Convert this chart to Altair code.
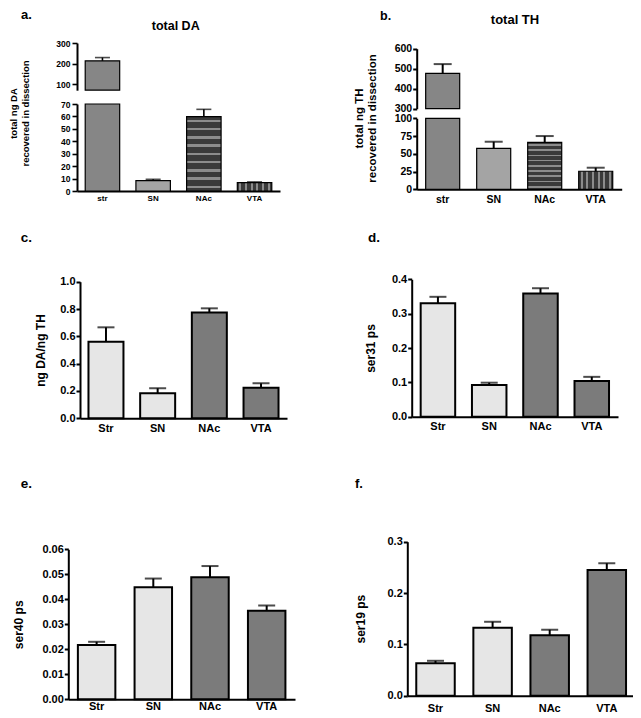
import altair as alt
import pandas as pd

# ---------------- data ----------------
cats_ab = ["str", "SN", "NAc", "VTA"]
cats = ["Str", "SN", "NAc", "VTA"]
da_mean = [213, 8.3, 59.8, 6.7]
da_err = [16, 1.1, 5.9, 0.6]
th_mean = [477, 57.7, 66.2, 25.4]
th_err = [46, 9.3, 8.8, 5.0]
ratio_mean = [0.56, 0.183, 0.775, 0.224]
ratio_err = [0.106, 0.037, 0.030, 0.032]
ser31_mean = [0.330, 0.092, 0.359, 0.104]
ser31_err = [0.019, 0.007, 0.015, 0.012]
ser40_mean = [0.0217, 0.0448, 0.0488, 0.0354]
ser40_err = [0.0013, 0.0035, 0.0045, 0.0021]
ser19_mean = [0.063, 0.1325, 0.118, 0.245]
ser19_err = [0.005, 0.0115, 0.0105, 0.013]

panel_letters = ["a.", "b.", "c.", "d.", "e.", "f."]
panel_titles = ["total DA", "total TH"]
ytitle_a = ["total ng DA", "recovered in dissection"]
ytitle_b = ["total ng TH", "recovered in dissection"]
ytitles = ["ng DA/ng TH", "ser31 ps", "ser40 ps", "ser19 ps"]

ticks_a_up = [100, 200, 300]
ticks_a_low = [0, 10, 20, 30, 40, 50, 60, 70]
ticks_b_up = [300, 400, 500, 600]
ticks_b_low = [0, 25, 50, 75, 100]
ticks_c = [0.0, 0.2, 0.4, 0.6, 0.8, 1.0]
ticks_d = [0.0, 0.1, 0.2, 0.3, 0.4]
ticks_e = [0.0, 0.01, 0.02, 0.03, 0.04, 0.05, 0.06]
ticks_f = [0.0, 0.1, 0.2, 0.3]

W, H = 625, 710
FONT = "Liberation Sans"
LIGHT, DARK = "#e6e6e6", "#7b7b7b"


def frame(cl, m, e):
    return pd.DataFrame({"cat": cl, "mean": m, "err": e})


def stripes(base, light, n, width, vertical):
    stops = [alt.GradientStop(color=base, offset=0)]
    for i in range(n):
        c = (i + 0.5) / n
        lo, hi = c - width / 2, c + width / 2
        stops += [alt.GradientStop(color=base, offset=lo),
                  alt.GradientStop(color=light, offset=lo),
                  alt.GradientStop(color=light, offset=hi),
                  alt.GradientStop(color=base, offset=hi)]
    stops.append(alt.GradientStop(color=base, offset=1))
    if vertical:
        return alt.LinearGradient(gradient="linear", stops=stops, x1=0, x2=1, y1=0, y2=0)
    return alt.LinearGradient(gradient="linear", stops=stops, x1=0, x2=0, y1=0, y2=1)


def segment(df, cat_list, fills, xr, pi, po, yr, ydom, yvals, yfmt, yoff, xoff,
            bar_filter=None, err_filter=None, ytitle=None, title_x=None, title_y=None,
            ylab=11, xlab=11, xpad=4, tick=4, ypad=1, clamp=False, bstroke=2.0,
            estroke=2.0, cap=17, title_size=12, title_lh=13, tick_w=2):
    xscale = alt.Scale(domain=cat_list, range=xr, paddingInner=pi, paddingOuter=po)
    if xoff is None:
        xaxis = None
    else:
        xaxis = alt.Axis(orient="bottom", offset=xoff, title=None, ticks=False, labelAngle=0,
                         labelFont=FONT, labelFontWeight="bold", labelFontSize=xlab,
                         labelPadding=xpad, labelColor="black", domainColor="black",
                         domainWidth=2, grid=False)
    X = alt.X("cat:N", scale=xscale, axis=xaxis, sort=cat_list)
    yscale = alt.Scale(domain=ydom, range=yr, nice=False, zero=False, clamp=clamp)
    kw = dict(orient="left", offset=yoff, values=yvals, grid=False, labelFont=FONT,
              labelFontWeight="bold", labelFontSize=ylab, labelColor="black",
              labelPadding=ypad, tickSize=tick, tickWidth=tick_w, tickColor="black",
              domainColor="black", domainWidth=2, labelOverlap=False)
    if yfmt:
        kw["format"] = yfmt
    if ytitle is None:
        kw["title"] = None
    else:
        kw.update(title=ytitle, titleFont=FONT, titleFontWeight="bold",
                  titleFontSize=title_size, titleColor="black", titleAngle=270,
                  titleBaseline="bottom", titleAlign="center", titleLineHeight=title_lh)
        if title_x is not None:
            kw["titleX"] = title_x
        if title_y is not None:
            kw["titleY"] = title_y
    yaxis = alt.Axis(**kw)
    Ym = alt.Y("mean:Q", scale=yscale, axis=yaxis)
    Yh = alt.Y("hi:Q", scale=yscale, axis=yaxis)
    base = alt.Chart(df).transform_calculate(hi="datum.mean + datum.err")
    layers = []
    for c, f in zip(cat_list, fills):
        b = base.transform_filter(alt.datum.cat == c)
        if bar_filter is not None:
            b = b.transform_filter(bar_filter)
        layers.append(b.mark_bar(fill=f, stroke="black", strokeWidth=bstroke)
                      .encode(x=X, y=Ym, y2=alt.datum(ydom[0])))
    e = base
    if err_filter is not None:
        e = e.transform_filter(err_filter)
    layers.append(e.mark_rule(color="black", strokeWidth=estroke).encode(x=X, y=Ym, y2="hi:Q"))
    layers.append(e.mark_tick(color="black", thickness=estroke, size=cap).encode(x=X, y=Yh))
    return alt.layer(*layers)


def label(txt, x, y, size, weight="bold", align="left"):
    return alt.Chart(pd.DataFrame({"t": [txt]})).mark_text(
        x=x, y=y, fontSize=size, fontWeight=weight, font=FONT, align=align,
        baseline="alphabetic", color="black").encode(text="t:N")


fills_ab = ["#868686", "#a4a4a4",
            stripes("#3a3a3a", "#8c8c8c", 9, 0.035, False),
            stripes("#3a3a3a", "#8c8c8c", 6, 0.06, True)]
fills_cf = [LIGHT, LIGHT, DARK, DARK]

df_a = frame(cats_ab, da_mean, da_err)
df_b = frame(cats_ab, th_mean, th_err)

# panel a (broken axis)
a_xr, a_pi, a_po = [69, 272], 0.32, 0.162
a_up = segment(df_a, cats_ab, fills_ab, a_xr, a_pi, a_po, [82.2, 35], [70, 300], ticks_a_up,
               "d", -69, None, bar_filter="datum.mean > 70", err_filter="datum.hi > 70",
               ylab=8.5, tick=5, ypad=2, bstroke=1.2, estroke=1.6, cap=15, tick_w=1.6)
a_low = segment(df_a, cats_ab, fills_ab, a_xr, a_pi, a_po, [183, 96], [0, 70], ticks_a_low,
                "d", -69, 183 - H, err_filter="datum.hi <= 70", clamp=True,
                ytitle=ytitle_a, title_x=-58.5, title_y=105, title_size=9.5, title_lh=12,
                ylab=8.5, xlab=8, xpad=3, tick=5, ypad=2, bstroke=1.2, estroke=1.6, cap=15,
                tick_w=1.6)

# panel b (broken axis)
b_xr, b_pi, b_po = [408.7, 613.7], 0.333, 0.176
b_up = segment(df_b, cats_ab, fills_ab, b_xr, b_pi, b_po, [100.7, 40.7], [300, 600], ticks_b_up,
               "d", -408.7, None, bar_filter="datum.mean > 300", err_filter="datum.hi > 300",
               ylab=10.5, bstroke=1.2, cap=18)
b_low = segment(df_b, cats_ab, fills_ab, b_xr, b_pi, b_po, [181.3, 110.3], [0, 100], ticks_b_low,
                "d", -408.7, 181.3 - H, err_filter="datum.hi <= 100", clamp=True,
                ytitle=ytitle_b, title_x=-52, title_y=110, title_size=11.5, title_lh=12.5,
                ylab=10.5, xlab=10.5, xpad=5.5, bstroke=1.2, cap=18)

# panels c-f
c_p = segment(frame(cats, ratio_mean, ratio_err), cats, fills_cf, [72, 279], 0.323, 0.164,
              [410.3, 273.7], [0, 1], ticks_c, ".1f", -72, 410.3 - H,
              ytitle=ytitles[0], title_x=-32.3, xpad=4)
d_p = segment(frame(cats, ser31_mean, ser31_err), cats, fills_cf, [403.7, 610], 0.327, 0.175,
              [408.7, 271.3], [0, 0.4], ticks_d, ".1f", -403.7, 408.7 - H,
              ytitle=ytitles[1], title_x=-34.4, xpad=4)
e_p = segment(frame(cats, ser40_mean, ser40_err), cats, fills_cf, [60.3, 287], 0.339, 0.169,
              [691.3, 541.3], [0, 0.06], ticks_e, ".2f", -60.3, 691.3 - H,
              ytitle=ytitles[2], title_x=-43.3, xpad=1.5)
f_p = segment(frame(cats, ser19_mean, ser19_err), cats, fills_cf, [399.3, 627], 0.326, 0.157,
              [687.7, 533.7], [0, 0.3], ticks_f, ".1f", -399.3, 687.7 - H,
              ytitle=ytitles[3], title_x=-39.6, xpad=6.5)

texts = [
    label(panel_letters[0], 13, 11, 13),
    label(panel_letters[1], 372, 11.5, 12.5),
    label(panel_letters[2], 12.7, 233.7, 13.5),
    label(panel_letters[3], 360, 233.7, 13.5),
    label(panel_letters[4], 12.7, 480.3, 13.5),
    label(panel_letters[5], 347, 480.3, 13),
    label(panel_titles[0], 167.7, 22, 12.5, align="center"),
    label(panel_titles[1], 507, 16, 13, align="center"),
]

chart = alt.layer(a_up, a_low, b_up, b_low, c_p, d_p, e_p, f_p, *texts).resolve_scale(
    x="independent", y="independent"
).properties(
    width=W, height=H, autosize=alt.AutoSizeParams(type="none"), padding=0
).configure_view(stroke=None)

chart.save("out.html", embed_options={"renderer": "svg", "actions": False})
